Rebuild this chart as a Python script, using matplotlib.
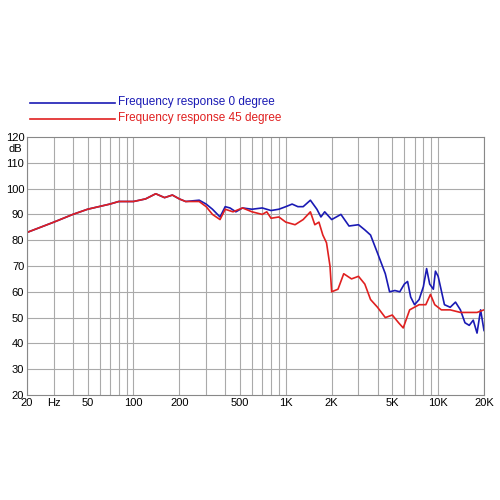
import matplotlib
matplotlib.use('Agg')
import matplotlib.pyplot as plt
import numpy as np

plt.rcParams['font.family'] = ['Liberation Sans', 'DejaVu Sans']

# 0 degree
f0 = [20, 30, 40, 50, 70, 80, 100, 120, 140, 160, 180, 200, 220, 270, 300, 330, 370, 400, 430, 470,
      520, 600, 700, 800, 900, 1000, 1100, 1200, 1300, 1450, 1600, 1700, 1800, 2000, 2300, 2600, 3000,
      3300, 3600, 4000, 4500, 4800, 5200, 5600, 6000, 6300, 6600, 7000, 7500, 8000, 8400, 8800, 9300,
      9600, 10000, 11000, 12000, 13000, 14000, 15000, 16000, 17000, 18000, 19000, 20000]
db0 = [83, 87, 90, 92, 94, 95, 95, 96, 98, 96.5, 97.5, 96, 95, 95.5, 94, 92, 89, 93, 92.5, 91,
       92.5, 92, 92.5, 91.5, 92, 93, 94, 93, 93, 95.5, 92, 89, 91, 88, 90, 85.5, 86,
       84, 82, 75, 67, 60, 60.5, 60, 63, 64, 58, 55, 57, 62, 69, 63, 61,
       68, 66, 55, 54, 56, 53, 48, 47, 49, 44, 53, 45]
# 45 degree
f45 = [20, 30, 40, 50, 70, 80, 100, 120, 140, 160, 180, 200, 220, 270, 300, 330, 370, 400, 450, 520,
       600, 700, 750, 800, 900, 1000, 1150, 1300, 1450, 1550, 1650, 1750, 1850, 1950, 2000, 2200, 2400,
       2700, 3000, 3300, 3600, 4000, 4500, 5000, 5500, 5900, 6500, 7500, 8300, 8900, 9500, 10500, 12000,
       14000, 18000, 20000]
db45 = [83, 87, 90, 92, 94, 95, 95, 96, 98, 96.5, 97.5, 96, 95, 95, 93, 90, 88, 92, 91, 92.5,
        91, 90, 91, 88.5, 89, 87, 86, 88, 91, 86, 87, 82, 79, 70, 60, 61, 67,
        65, 66, 63, 57, 54, 50, 51, 48, 46, 53, 55, 55, 59, 55, 53, 53,
        52, 52, 53]

xticks = [20, 30, 50, 100, 200, 500, 1000, 2000, 5000, 10000, 20000]
xlabels = ['20', 'Hz', '50', '100', '200', '500', '1K', '2K', '5K', '10K', '20K']

fig = plt.figure(figsize=(5, 5), dpi=100)
ax = fig.add_axes([0.054, 0.21, 0.914, 0.516])
ax.semilogx(f0, db0, color='#1a1ab4', lw=1.2)
ax.semilogx(f45, db45, color='#e02020', lw=1.2)
ax.set_xlim(20, 20000)
ax.set_ylim(20, 120)

minor = [m * d for d in (10, 100, 1000, 10000) for m in range(1, 10) if 20 <= m * d <= 20000]
for v in minor:
    ax.axvline(v, color='#aaaaaa', lw=0.8, zorder=0)
for v in range(30, 120, 10):
    ax.axhline(v, color='#aaaaaa', lw=0.8, zorder=0)

ax.set_xticks(xticks)
ax.set_xticklabels(xlabels, fontsize=8)
ax.xaxis.set_minor_locator(plt.NullLocator())
ax.set_yticks(range(20, 121, 10))
ax.set_yticklabels([str(v) for v in range(20, 121, 10)], fontsize=8)
ax.tick_params(length=0, pad=2)
ax.text(-0.01, 0.955, 'dB', transform=ax.transAxes, ha='right', va='center', fontsize=8)
for s in ax.spines.values():
    s.set_color('#888888')

# legend above the plot
fig.lines.append(plt.Line2D([0.06, 0.23], [0.794, 0.794], color='#1a1ab4', lw=1.2, transform=fig.transFigure))
fig.lines.append(plt.Line2D([0.06, 0.23], [0.762, 0.762], color='#e02020', lw=1.2, transform=fig.transFigure))
fig.text(0.235, 0.796, 'Frequency response 0 degree', color='#1a1ab4', fontsize=8.5, va='center')
fig.text(0.235, 0.764, 'Frequency response 45 degree', color='#e02020', fontsize=8.5, va='center')

fig.savefig('out.png')
